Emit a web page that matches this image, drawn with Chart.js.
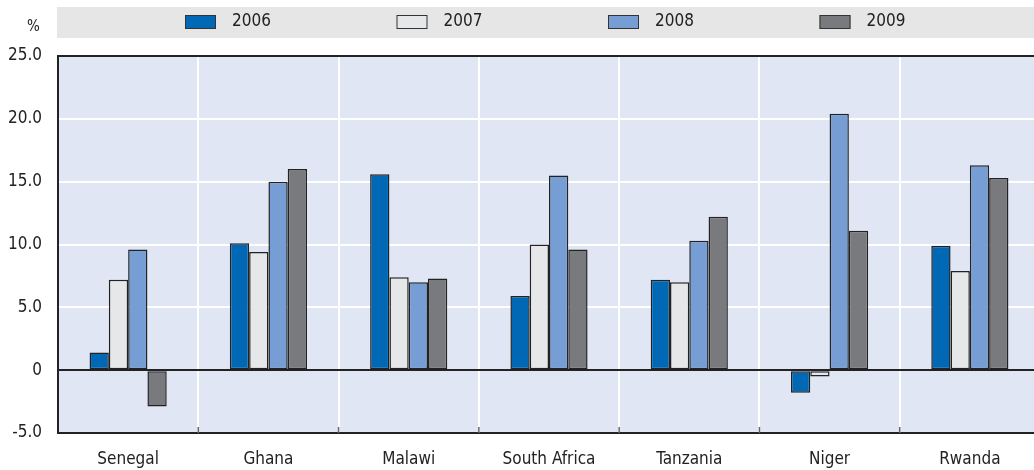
<!DOCTYPE html>
<html>
<head>
<meta charset="utf-8">
<script src="https://cdn.jsdelivr.net/npm/chart.js@4"></script>
<style>
  html, body { margin: 0; padding: 0; background: #ffffff; overflow: hidden; }
  #wrap { width: 1040px; height: 470px; position: relative; }
</style>
</head>
<body>
<div id="wrap"><canvas id="chart"></canvas></div>
<script>
// Données (en %)
const countries = ['Senegal', 'Ghana', 'Malawi', 'South Africa', 'Tanzania', 'Niger', 'Rwanda'];
const years = ['2006', '2007', '2008', '2009'];
const values2006 = [1.4, 10.1, 15.6, 5.9, 7.2, -1.8, 9.9];
const values2007 = [7.2, 9.4, 7.4, 10.0, 7.0, -0.5, 7.9];
const values2008 = [9.6, 15.0, 7.0, 15.5, 10.3, 20.4, 16.3];
const values2009 = [-2.9, 16.0, 7.3, 9.6, 12.2, 11.1, 15.3];
const yTicks = [-5, 0, 5, 10, 15, 20, 25];

const COLORS = ['#0068b5', '#e6e7e9', '#769ed4', '#797a7d'];
const FONT = "'DejaVu Sans Condensed', 'Liberation Sans Narrow', sans-serif";
const TEXT = '#222222';

// Fond de la zone de tracé, bandeau de légende, bordure haute et petites graduations
const decorPlugin = {
    id: 'decor',
    beforeDraw(chart) {
        const { ctx, chartArea } = chart;
        ctx.save();
        ctx.fillStyle = '#e0e6f3';
        ctx.fillRect(chartArea.left, chartArea.top, chartArea.right - chartArea.left, chartArea.bottom - chartArea.top);
        // bandeau de légende
        ctx.fillStyle = '#e6e6e6';
        ctx.fillRect(57, 7, chart.width - 57, 31);
        ctx.restore();
    },
    afterDraw(chart) {
        const { ctx, chartArea } = chart;
        const xs = chart.scales.x;
        ctx.save();
        // bordure haute
        ctx.strokeStyle = TEXT;
        ctx.lineWidth = 2;
        ctx.beginPath();
        ctx.moveTo(chartArea.left - 1, chartArea.top);
        ctx.lineTo(chartArea.right, chartArea.top);
        ctx.stroke();
        // graduations entre catégories
        ctx.strokeStyle = '#666666';
        ctx.lineWidth = 1.5;
        for (let i = 1; i < countries.length; i++) {
            const x = (xs.getPixelForTick(i - 1) + xs.getPixelForTick(i)) / 2;
            ctx.beginPath();
            ctx.moveTo(x, chartArea.bottom);
            ctx.lineTo(x, chartArea.bottom - 6);
            ctx.stroke();
        }
        // légende
        ctx.font = '17px ' + FONT;
        ctx.textBaseline = 'middle';
        chart.data.datasets.forEach((ds, i) => {
            const bx = 185 + i * 211.5;
            ctx.fillStyle = ds.backgroundColor;
            ctx.fillRect(bx, 15, 31, 14);
            ctx.strokeStyle = '#333333';
            ctx.lineWidth = 1;
            ctx.strokeRect(bx + 0.5, 15.5, 30, 13);
            ctx.fillStyle = TEXT;
            ctx.fillText(ds.label, bx + 47, 22);
        });
        // unité
        ctx.font = '15px ' + FONT;
        ctx.fillText('%', 27, 27);
        ctx.restore();
    }
};

function makeDataset(label, data, color) {
    return {
        label: label,
        data: data,
        backgroundColor: color,
        borderColor: '#222222',
        borderWidth: 1.5,
        borderSkipped: false,
        categoryPercentage: 0.55,
        barPercentage: 1.0
    };
}

function initChart() {
    const ctx = document.getElementById('chart').getContext('2d');
    return new Chart(ctx, {
        type: 'bar',
        data: {
            labels: countries,
            datasets: [
                makeDataset(years[0], values2006, COLORS[0]),
                makeDataset(years[1], values2007, COLORS[1]),
                makeDataset(years[2], values2008, COLORS[2]),
                makeDataset(years[3], values2009, COLORS[3])
            ]
        },
        options: {
            responsive: true,
            maintainAspectRatio: false,
            animation: false,
            devicePixelRatio: 1,
            layout: { padding: { top: 56, left: 0, right: 0, bottom: 0 } },
            plugins: {
                legend: { display: false },
                tooltip: { enabled: false }
            },
            scales: {
                x: {
                    grid: {
                        offset: true,
                        color: '#ffffff',
                        lineWidth: 2,
                        drawTicks: false
                    },
                    border: { display: true, color: TEXT, width: 2 },
                    ticks: {
                        color: TEXT,
                        font: { family: FONT, size: 17 },
                        padding: 16,
                        maxRotation: 0
                    },
                    afterFit(scale) { scale.height = 37; }
                },
                y: {
                    min: -5,
                    max: 25,
                    afterBuildTicks(scale) {
                        scale.ticks = yTicks.map(v => ({ value: v }));
                    },
                    grid: {
                        color: ctx => ctx.tick && ctx.tick.value === 0 ? TEXT : '#ffffff',
                        lineWidth: 2,
                        drawTicks: false
                    },
                    border: { display: true, color: TEXT, width: 2 },
                    ticks: {
                        color: TEXT,
                        font: { family: FONT, size: 17 },
                        padding: 16,
                        callback: v => v === 0 ? '0' : Number(v).toFixed(1)
                    },
                    afterFit(scale) { scale.width = 58; }
                }
            }
        },
        plugins: [decorPlugin]
    });
}

document.addEventListener('DOMContentLoaded', initChart);
</script>
</body>
</html>
